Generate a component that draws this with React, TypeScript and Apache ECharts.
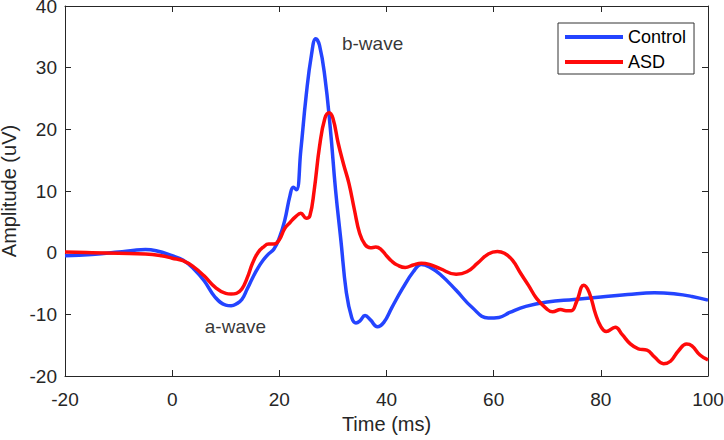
import React, { useEffect, useRef } from "react";
import * as echarts from "echarts";

const xTicks = [-20, 0, 20, 40, 60, 80, 100];
const yTicks = [-20, -10, 0, 10, 20, 30, 40];

const controlT = [-20, -15, -10, -7, -5, -3, 0, 2, 4, 6, 8, 10, 11, 12, 13, 14, 15, 16, 17, 18, 19, 20, 21, 22, 22.6, 23.2, 24, 25, 26, 26.8, 27.5, 28.5, 29.5, 30.5, 31.5, 32.5, 33.5, 34.3, 35, 36, 37, 38.3, 39.5, 41, 43, 45, 46.5, 48, 50, 53, 56, 59, 61, 63, 66, 70, 75, 80, 85, 90, 94, 97, 100];
const controlV = [-0.5, -0.3, 0.1, 0.4, 0.5, 0.3, -0.5, -1.2, -2.6, -4.6, -7.2, -8.5, -8.6, -8.3, -7.6, -5.9, -4.1, -2.5, -1.2, -0.2, 0.6, 2.4, 5.2, 9.3, 10.6, 10.2, 16.5, 25.4, 32.1, 34.7, 33.6, 28.5, 20.3, 10.1, 1.9, -6.4, -10.5, -11.4, -11.1, -10.2, -10.9, -12, -11.3, -8.9, -5.8, -3.1, -1.9, -2.3, -3.5, -6.1, -8.9, -10.6, -10.5, -9.7, -8.7, -8, -7.6, -7.2, -6.8, -6.5, -6.7, -7.1, -7.7];

const asdT = [-20, -15, -10, -5, -2, 0, 2, 4, 6, 8, 10, 11, 12, 13, 14, 15, 16, 17, 18, 19, 20, 21, 22, 23, 24, 25, 25.7, 26.5, 27.5, 28.5, 29.3, 30, 31, 32, 33, 34, 35, 36, 37, 38, 39, 40, 41, 42, 43.5, 45, 46.5, 48, 50, 53, 55, 57, 59, 60.7, 62, 63.5, 65, 66.5, 68, 70, 71, 72.5, 73.5, 74.5, 75.5, 76.8, 77.8, 79, 80, 81, 82.7, 84, 85.5, 87, 88.6, 90, 91.7, 93, 94.5, 96, 97, 98.5, 100];
const asdV = [0.1, 0, -0.1, -0.2, -0.5, -0.9, -1.3, -2.3, -3.8, -5.6, -6.6, -6.7, -6.6, -5.9, -4.1, -1.7, 0, 0.9, 1.4, 1.4, 2.1, 3.9, 4.9, 5.8, 6.4, 5.6, 6, 10.1, 17.2, 21.8, 22.7, 21.8, 17.7, 14.3, 11.2, 7, 3.1, 1.3, 0.8, 0.9, 0.5, -0.5, -1.4, -2, -2.4, -2, -1.7, -1.9, -2.6, -3.5, -3.1, -1.7, -0.2, 0.2, -0.1, -1.2, -3.3, -5.3, -7.4, -9.2, -9.6, -9.2, -9.4, -9.4, -7.9, -5.3, -6.4, -9.9, -12, -12.8, -12.1, -13.3, -14.8, -15.6, -15.8, -16.9, -18, -17.6, -15.9, -14.8, -15.1, -16.6, -17.4];

const annotationText = ["b-wave", "a-wave"];
const annotationT = [37.4, 11.8];
const annotationV = [34.0, -12.0];

const seriesNames = ["Control", "ASD"];
const seriesColors = ["#2444ff", "#ff0a0a"];

const axisColor = "#262626";
const fontFamily = "'Liberation Sans', Arial, Helvetica, sans-serif";

export default function App() {
  const ref = useRef<HTMLDivElement>(null);
  useEffect(() => {
    document.body.style.margin = "0";
    if (!ref.current) return;
    const chart = echarts.init(ref.current, undefined, { renderer: "svg" });
    const zip = (t: number[], v: number[]) => t.map((x, i) => [x, v[i]]);
    const xMin = xTicks[0], xMax = xTicks[xTicks.length - 1];
    const yMin = yTicks[0], yMax = yTicks[yTicks.length - 1];
    const common = {
      axisLine: { show: true, onZero: false, lineStyle: { color: axisColor, width: 1 } },
      axisTick: { show: true, inside: true, length: 6, lineStyle: { color: axisColor } },
      splitLine: { show: false },
    };
    chart.setOption({
      animation: false,
      backgroundColor: "#fff",
      textStyle: { fontFamily },
      grid: { left: 65, right: 16, top: 6, bottom: 64, containLabel: false, outerBoundsMode: "none" },
      legend: {
        data: seriesNames,
        orient: "vertical",
        left: 558,
        top: 23,
        icon: "rect",
        itemWidth: 58,
        itemHeight: 4,
        itemGap: 7,
        padding: [5, 8, 3, 7],
        borderColor: "#333",
        borderWidth: 1,
        backgroundColor: "#fff",
        textStyle: { fontSize: 18, color: "#000", fontFamily, padding: [0, 0, 0, 0] },
      },
      xAxis: [
        {
          type: "value",
          min: xMin,
          max: xMax,
          interval: 20,
          name: "Time (ms)",
          nameLocation: "middle",
          nameGap: 34,
          nameTextStyle: { fontSize: 20, color: axisColor, fontFamily },
          axisLabel: { fontSize: 19, color: axisColor, margin: 14, fontFamily },
          ...common,
        },
        {
          type: "value",
          position: "top",
          min: xMin,
          max: xMax,
          interval: 20,
          axisLabel: { show: false },
          ...common,
        },
      ],
      yAxis: [
        {
          type: "value",
          min: yMin,
          max: yMax,
          interval: 10,
          name: "Amplitude (uV)",
          nameLocation: "middle",
          nameGap: 39,
          nameTextStyle: { fontSize: 20, color: axisColor, fontFamily },
          axisLabel: { fontSize: 19, color: axisColor, margin: 8, fontFamily, lineHeight: 19, padding: [7, 0, 0, 0] },
          ...common,
        },
        {
          type: "value",
          position: "right",
          min: yMin,
          max: yMax,
          interval: 10,
          axisLabel: { show: false },
          ...common,
        },
      ],
      series: [
        {
          name: seriesNames[0],
          type: "line",
          data: zip(controlT, controlV),
          smooth: 0.45,
          showSymbol: false,
          symbol: "none",
          lineStyle: { color: seriesColors[0], width: 3.5 },
          itemStyle: { color: seriesColors[0] },
        },
        {
          name: seriesNames[1],
          type: "line",
          data: zip(asdT, asdV),
          smooth: 0.45,
          showSymbol: false,
          symbol: "none",
          lineStyle: { color: seriesColors[1], width: 3.5 },
          itemStyle: { color: seriesColors[1] },
        },
        {
          name: "annotations",
          type: "scatter",
          symbolSize: 1,
          itemStyle: { color: "rgba(0,0,0,0)" },
          data: annotationText.map((s, i) => ({ value: [annotationT[i], annotationV[i]], name: s })),
          label: {
            show: true,
            position: "inside",
            formatter: (p: any) => p.name,
            fontSize: 19,
            color: "#000",
            fontFamily,
          },
          silent: true,
        },
      ],
    });
    return () => chart.dispose();
  }, []);
  return <div ref={ref} style={{ width: 724, height: 440 }} />;
}
